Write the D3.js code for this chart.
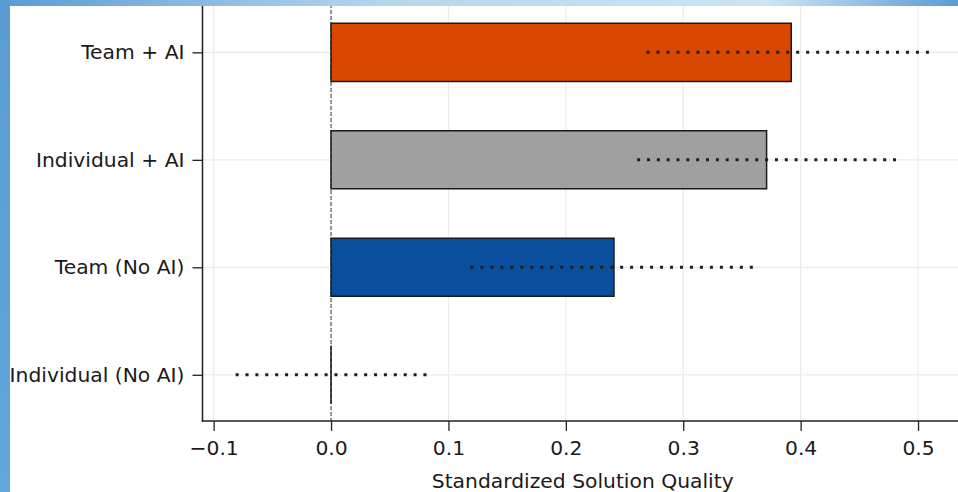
<!DOCTYPE html>
<html><head><meta charset="utf-8">
<script src="https://cdn.jsdelivr.net/npm/d3@7"></script>
<style>
html,body{margin:0;padding:0;width:958px;height:492px;overflow:hidden;background:#fff;}
svg{display:block;}
text{font-family:"DejaVu Sans",sans-serif;fill:#1a1a1a;}
</style></head>
<body>
<svg id="chart" width="958" height="492"></svg>
<script>
// ---- data ----
const categories = ["Individual (No AI)", "Team (No AI)", "Individual + AI", "Team + AI"];
const values = [0.0, 0.241, 0.371, 0.392];
const ciLow = [-0.08, 0.12, 0.262, 0.27];
const ciHigh = [0.08, 0.358, 0.48, 0.508];
const barColors = ["#0a4f9e", "#0a4f9e", "#a0a0a0", "#d94801"];
const xTicks = [-0.1, 0.0, 0.1, 0.2, 0.3, 0.4, 0.5];
const xLabel = "Standardized Solution Quality";

(function(){
const svg = d3.select("#chart");
const W = 958, H = 492;
const FS = "20.3px";

// background frame (blue gradient edges)
const defs = svg.append("defs");
const g1 = defs.append("linearGradient").attr("id","topg").attr("x1","0").attr("x2","1").attr("y1","0").attr("y2","0");
g1.append("stop").attr("offset","0%").attr("stop-color","#5a9bd5");
g1.append("stop").attr("offset","40%").attr("stop-color","#b6d6ec");
g1.append("stop").attr("offset","80%").attr("stop-color","#cfe4f3");
g1.append("stop").attr("offset","100%").attr("stop-color","#5a9bd5");
const g2 = defs.append("linearGradient").attr("id","leftg").attr("x1","0").attr("x2","0").attr("y1","0").attr("y2","1");
g2.append("stop").attr("offset","0%").attr("stop-color","#5a9bd5");
g2.append("stop").attr("offset","100%").attr("stop-color","#62a6dc");
svg.append("rect").attr("x",0).attr("y",0).attr("width",10).attr("height",H).attr("fill","url(#leftg)");
svg.append("rect").attr("x",0).attr("y",0).attr("width",W).attr("height",6).attr("fill","url(#topg)");

const plot = svg.append("g");
const clip = defs.append("clipPath").attr("id","pclip");
clip.append("rect").attr("x",10).attr("y",6).attr("width",W-10).attr("height",H-6);
plot.attr("clip-path","url(#pclip)");

const pLeft = 202.5, pRight = 963, pBottom = 421, pTop = 4;
const x = d3.scaleLinear().domain([-0.1095, 0.5383]).range([pLeft, pRight]);
const y = d3.scaleLinear().domain([-0.43, 3.45]).range([pBottom, pTop]);
const barH = y(0) - y(0.54);

// gridlines
plot.append("g").selectAll("line").data(xTicks).join("line")
  .attr("x1", d => x(d)).attr("x2", d => x(d)).attr("y1", pTop).attr("y2", pBottom)
  .attr("stroke", "#ebebeb").attr("stroke-width", 1.2);
plot.append("g").selectAll("line").data(categories).join("line")
  .attr("x1", pLeft).attr("x2", pRight).attr("y1", (d,i) => y(i)).attr("y2", (d,i) => y(i))
  .attr("stroke", "#ebebeb").attr("stroke-width", 1.2);

// zero line (dashed)
plot.append("line").attr("x1", x(0)).attr("x2", x(0)).attr("y1", pTop).attr("y2", pBottom)
  .attr("stroke", "#666").attr("stroke-width", 1.3).attr("stroke-dasharray", "4,2");

// bars (as paths so zero-width bars still show their edge)
plot.append("g").selectAll("path").data(values).join("path")
  .attr("d", (d,i) => {
    const x0 = x(Math.min(0,d)), x1 = x(Math.max(0,d));
    const y0 = y(i) - barH/2, y1 = y(i) + barH/2;
    return `M${x0},${y0}H${x1}V${y1}H${x0}Z`;
  })
  .attr("fill", (d,i) => barColors[i])
  .attr("stroke", "#1a1a1a").attr("stroke-width", 1.5);

// error bars (dotted)
plot.append("g").selectAll("line").data(categories).join("line")
  .attr("x1", (d,i) => x(ciLow[i]) - 1.5).attr("x2", (d,i) => x(ciHigh[i]) + 1.5)
  .attr("y1", (d,i) => y(i)).attr("y2", (d,i) => y(i))
  .attr("stroke", "#1e1e1e").attr("stroke-width", 3).attr("stroke-linecap", "butt")
  .attr("stroke-dasharray", (d,i) => {
    const len = x(ciHigh[i]) - x(ciLow[i]);
    const n = Math.max(1, Math.round(len / 10));
    const p = len / n;
    return `3,${(p - 3).toFixed(3)}`;
  });

// spines
svg.append("line").attr("x1", pLeft).attr("x2", pLeft).attr("y1", 6).attr("y2", pBottom + 0.75)
  .attr("stroke", "#222").attr("stroke-width", 1.5);
svg.append("line").attr("x1", pLeft - 0.75).attr("x2", W).attr("y1", pBottom).attr("y2", pBottom)
  .attr("stroke", "#222").attr("stroke-width", 1.5);

// x axis
const xAxis = d3.axisBottom(x).tickValues(xTicks).tickSize(10).tickPadding(10)
  .tickFormat(d => d3.format(".1f")(d).replace("-", "\u2212"));
const xg = svg.append("g").attr("transform", `translate(0,${pBottom})`).call(xAxis);
xg.select(".domain").remove();
xg.selectAll(".tick line").attr("stroke", "#222").attr("stroke-width", 1.3);
xg.selectAll(".tick text").attr("font-size", FS).attr("font-family", "DejaVu Sans").attr("fill", "#1a1a1a");

// y axis
const yAxis = d3.axisLeft(y).tickValues(d3.range(categories.length)).tickSize(10).tickPadding(8)
  .tickFormat(i => categories[i]);
const yg = svg.append("g").attr("transform", `translate(${pLeft},0)`).call(yAxis);
yg.select(".domain").remove();
yg.selectAll(".tick line").attr("stroke", "#222").attr("stroke-width", 1.3);
yg.selectAll(".tick text").attr("font-size", FS).attr("font-family", "DejaVu Sans").attr("fill", "#1a1a1a");

// x label
svg.append("text").attr("x", (pLeft + pRight) / 2).attr("y", 487.5)
  .attr("text-anchor", "middle").attr("font-size", FS).text(xLabel);
})();
</script>
</body></html>
